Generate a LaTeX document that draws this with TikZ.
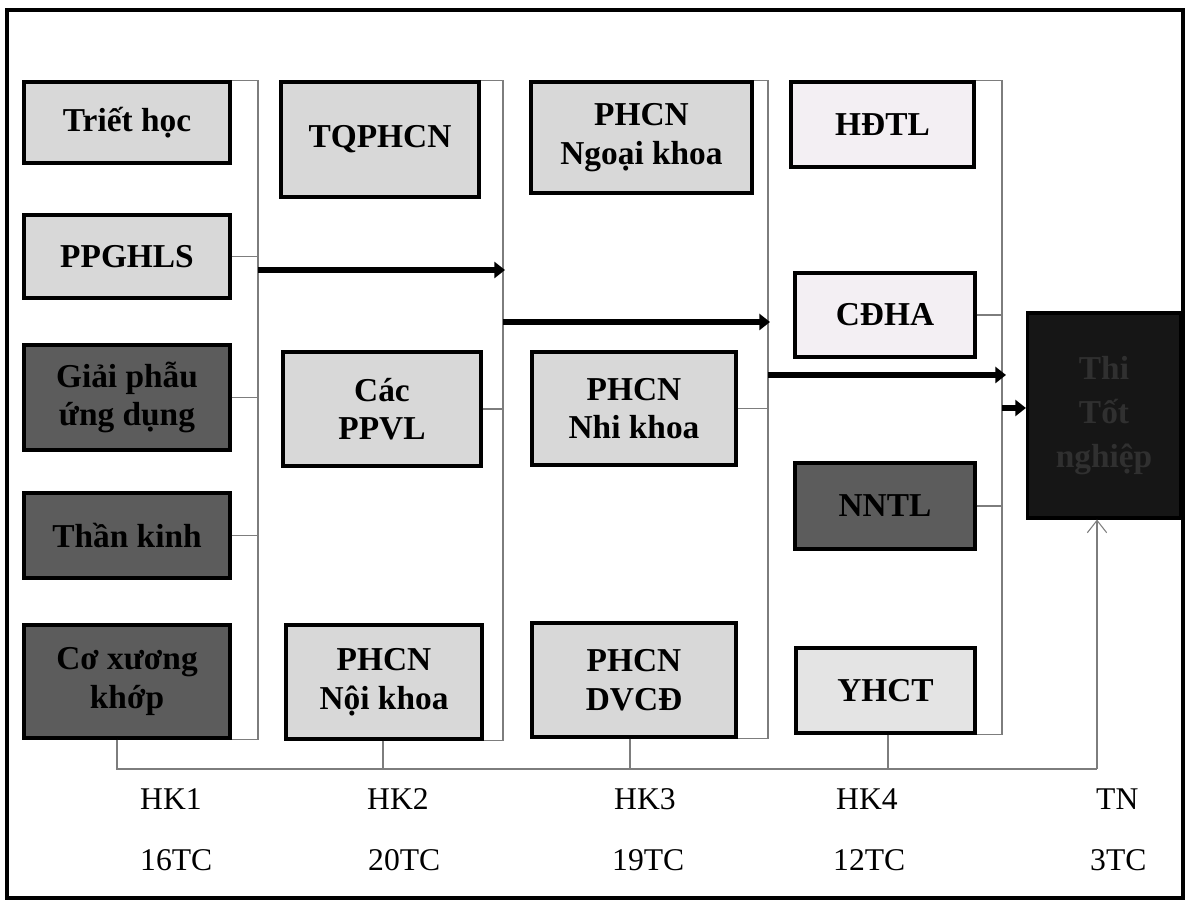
\documentclass[tikz,border=0pt]{standalone}
\usepackage{fontspec}
\setmainfont{Liberation Serif}
\usepackage{tikz}
\usetikzlibrary{positioning,arrows.meta,calc}

\definecolor{lightfill}{RGB}{216,216,216}
\definecolor{softfill}{RGB}{228,228,228}
\definecolor{palefill}{RGB}{243,239,243}
\definecolor{darkfill}{RGB}{92,92,92}
\definecolor{tnfill}{RGB}{22,22,22}
\definecolor{tntext}{RGB}{48,48,48}
\definecolor{linegray}{RGB}{125,125,125}

\begin{document}
\begin{tikzpicture}[x=0.02cm,y=-0.02cm,>=Stealth,
		course/.style={draw=black,line width=1.8pt,align=center,inner sep=2pt,
			font=\fontsize{19}{22}\selectfont\bfseries},
		lightcourse/.style={course,fill=lightfill},
		palecourse/.style={course,fill=palefill},
		darkcourse/.style={course,fill=darkfill},
		tiebar/.style={draw=linegray,line width=0.6pt},
		flow/.style={line width=3.4pt,-{Triangle[length=6pt,width=9pt]}},
		term/.style={anchor=west,font=\fontsize{18}{20}\selectfont}]
		
		\useasboundingbox (0,0) rectangle (1185,901);
		
		% Frame
		\draw[line width=1.8pt] (7,10) rectangle (1183,898);
		
		% HK1
		\node[lightcourse,minimum width=4.12cm,minimum height=1.62cm] (triet) at (127,122.5) {Triết học};
		\node[lightcourse,minimum width=4.12cm,minimum height=1.66cm] (ppghls) at (127,256.5) {PPGHLS};
		\node[darkcourse,minimum width=4.12cm,minimum height=2.1cm] (giaiphau) at (127,397.5) {Giải phẫu\\ứng dụng};
		\node[darkcourse,minimum width=4.12cm,minimum height=1.7cm] (thankinh) at (127,535.5) {Thần kinh};
		\node[darkcourse,minimum width=4.12cm,minimum height=2.26cm] (coxuong) at (127,681.5) {Cơ xương\\khớp};
		
		% HK2
		\node[lightcourse,minimum width=3.96cm,minimum height=2.3cm] (tqphcn) at (380,139.5) {TQPHCN};
		\node[lightcourse,minimum width=3.96cm,minimum height=2.28cm] (cacppvl) at (382,409) {Các\\PPVL};
		\node[lightcourse,minimum width=3.92cm,minimum height=2.28cm] (noikhoa) at (384,682) {PHCN\\Nội khoa};
		
		% HK3
		\node[lightcourse,minimum width=4.42cm,minimum height=2.22cm] (ngoaikhoa) at (641.5,137.5) {PHCN\\Ngoại khoa};
		\node[lightcourse,minimum width=4.08cm,minimum height=2.26cm] (nhikhoa) at (634,408.5) {PHCN\\Nhi khoa};
		\node[lightcourse,minimum width=4.08cm,minimum height=2.28cm] (dvcd) at (634,680) {PHCN\\DVCĐ};
		
		% HK4
		\node[palecourse,minimum width=3.66cm,minimum height=1.7cm] (hdtl) at (882.5,124.5) {HĐTL};
		\node[palecourse,minimum width=3.6cm,minimum height=1.68cm] (cdha) at (885,315) {CĐHA};
		\node[darkcourse,minimum width=3.6cm,minimum height=1.72cm] (nntl) at (885,506) {NNTL};
		\node[lightcourse,fill=softfill,minimum width=3.58cm,minimum height=1.7cm] (yhct) at (885.5,690.5) {YHCT};
		
		% TN
		\node[course,fill=tnfill,text=tntext,font=\fontsize{19}{25}\selectfont\bfseries,
			minimum width=3.06cm,minimum height=4.1cm] (thitn) at (1104,415.5) {Thi\\Tốt\\nghiệp};
		
		% Brackets
		\coordinate (b1) at (258,84);
		\coordinate (b2) at (503,84);
		\coordinate (b3) at (768,84);
		\coordinate (b4) at (1002,84);
		
		\draw[tiebar] (triet.north east) -| (coxuong.south east -| b1) -- (coxuong.south east);
		\draw[tiebar] (ppghls.east) -- (ppghls.east -| b1);
		\draw[tiebar] (giaiphau.east) -- (giaiphau.east -| b1);
		\draw[tiebar] (thankinh.east) -- (thankinh.east -| b1);
		
		\draw[tiebar] (tqphcn.north east) -| (noikhoa.south east -| b2) -- (noikhoa.south east);
		\draw[tiebar] (cacppvl.east) -- (cacppvl.east -| b2);
		
		\draw[tiebar] (ngoaikhoa.north east) -| (dvcd.south east -| b3) -- (dvcd.south east);
		\draw[tiebar] (nhikhoa.east) -- (nhikhoa.east -| b3);
		
		\draw[tiebar] (hdtl.north east) -| (yhct.south east -| b4) -- (yhct.south east);
		\draw[tiebar] (cdha.east) -- (cdha.east -| b4);
		\draw[tiebar] (nntl.east) -- (nntl.east -| b4);
		
		% Flow arrows
		\coordinate (s1) at (258,270);
		\coordinate (e1) at (505,270);
		\coordinate (s2) at (503,322);
		\coordinate (e2) at (770,322);
		\coordinate (s3) at (768,375);
		\coordinate (e3) at (1006,375);
		\coordinate (s4) at (1002,408);
		
		\draw[flow] (s1) -- (e1);
		\draw[flow] (s2) -- (e2);
		\draw[flow] (s3) -- (e3);
		\draw[flow] (s4) -- (s4 -| thitn.west);
		
		% Semester line
		\coordinate (hk1) at (117,769);
		\coordinate (hk2) at (383,769);
		\coordinate (hk3) at (630,769);
		\coordinate (hk4) at (888,769);
		\coordinate (tn) at (1097,769);
		
		\draw[tiebar,line width=1pt] (coxuong.south -| hk1) -- (hk1) -- (tn);
		\draw[tiebar] (noikhoa.south -| hk2) -- (hk2);
		\draw[tiebar] (dvcd.south -| hk3) -- (hk3);
		\draw[tiebar] (yhct.south -| hk4) -- (hk4);
		\draw[tiebar,-{Straight Barb[length=7pt,width=11pt]}] (tn) -- (tn |- thitn.south);
		
		% Labels
		\node[term] (lhk1) at (134,799) {HK1};
		\node[term] (lhk2) at (361,799) {HK2};
		\node[term] (lhk3) at (608,799) {HK3};
		\node[term] (lhk4) at (830,799) {HK4};
		\node[term] (ltn) at (1090,799) {TN};
		
		\node[term] (ltc1) at (134,860) {16TC};
		\node[term] (ltc2) at (362,860) {20TC};
		\node[term] (ltc3) at (606,860) {19TC};
		\node[term] (ltc4) at (827,860) {12TC};
		\node[term] (ltc5) at (1084,860) {3TC};
		
	\end{tikzpicture}
\end{document}
